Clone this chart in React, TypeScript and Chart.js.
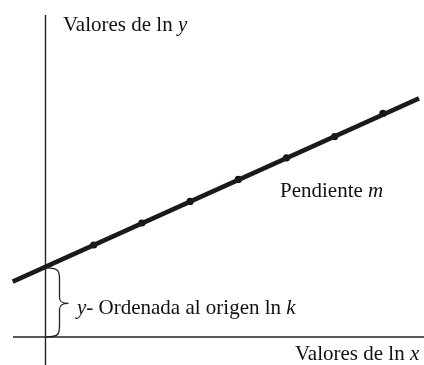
import React, { useEffect, useRef } from "react";
import { Chart, registerables } from "chart.js";

Chart.register(...registerables);

// ln x values of the measured points
const lnX = [1, 2, 3, 4, 5, 6, 7];
// ln y values of the measured points
const lnY = [4.6, 5.7, 6.78, 7.88, 8.96, 10.02, 11.18];
// fitted straight line (ends)
const fitX = [-0.68, 7.75];
const fitY = [2.77, 11.93];
// axis ranges
const xRange = [-0.944, 7.853];
const yRange = [-1.4, 16.85];

const yLabel = [["Valores de ", false], ["ln ", false], ["y", true]];
const xLabel = [["Valores de ", false], ["ln ", false], ["x", true]];
const slopeLabel = [["Pendiente ", false], ["m", true]];
const interceptLabel = [["y", true], ["- Ordenada al origen ", false], ["ln ", false], ["k", true]];

const FONT = '"Liberation Serif", "DejaVu Serif", serif';
const SIZE = 21;

function drawRich(ctx: CanvasRenderingContext2D, x: number, y: number, segs: any[]) {
  let cx = x;
  for (const [t, it] of segs) {
    ctx.font = `${it ? "italic " : ""}${SIZE}px ${FONT}`;
    ctx.fillText(t, cx, y);
    cx += ctx.measureText(t).width;
  }
}

const overlay = {
  id: "overlay",
  beforeDatasetsDraw(chart: any) {
    const ctx = chart.ctx as CanvasRenderingContext2D;
    const xs = chart.scales.x;
    const ys = chart.scales.y;
    const x0 = xs.getPixelForValue(0);
    const y0 = ys.getPixelForValue(0);
    ctx.save();
    ctx.strokeStyle = "#222";
    ctx.lineWidth = 1.4;
    ctx.beginPath();
    ctx.moveTo(x0, 15);
    ctx.lineTo(x0, chart.height);
    ctx.moveTo(13, y0);
    ctx.lineTo(chart.width, y0);
    ctx.stroke();
    ctx.restore();
  },
  afterDraw(chart: any) {
    const ctx = chart.ctx as CanvasRenderingContext2D;
    const xs = chart.scales.x;
    const ys = chart.scales.y;
    const x0 = xs.getPixelForValue(0);
    const y0 = ys.getPixelForValue(0);
    const yi = ys.getPixelForValue(fitY[0] + (fitY[1] - fitY[0]) * (0 - fitX[0]) / (fitX[1] - fitX[0]));
    ctx.save();
    // brace
    ctx.strokeStyle = "#222";
    ctx.lineWidth = 1.3;
    const top = yi + 1;
    const bot = y0;
    const mid = (top + bot) / 2 + 1;
    const bx = x0 + 14;
    const tip = x0 + 23;
    ctx.beginPath();
    ctx.moveTo(x0 + 1, top);
    ctx.bezierCurveTo(bx, top, bx, top + 4, bx, top + 12);
    ctx.lineTo(bx, mid - 6);
    ctx.bezierCurveTo(bx, mid - 2, bx + 2, mid, tip, mid);
    ctx.bezierCurveTo(bx + 2, mid, bx, mid + 2, bx, mid + 6);
    ctx.lineTo(bx, bot - 12);
    ctx.bezierCurveTo(bx, bot - 4, bx, bot, x0 + 1, bot);
    ctx.stroke();
    // labels
    ctx.fillStyle = "#111";
    ctx.textBaseline = "alphabetic";
    ctx.textAlign = "left";
    drawRich(ctx, 63, 31, yLabel);
    drawRich(ctx, 280, 197, slopeLabel);
    drawRich(ctx, 77, 314, interceptLabel);
    drawRich(ctx, 295, 360, xLabel);
    ctx.restore();
  },
};

export default function App() {
  const ref = useRef<HTMLCanvasElement>(null);
  useEffect(() => {
    if (!ref.current) return;
    const chart = new Chart(ref.current, {
      type: "scatter",
      data: {
        datasets: [
          {
            data: fitX.map((x, i) => ({ x, y: fitY[i] })),
            showLine: true,
            borderColor: "#1a1a1a",
            borderWidth: 4.5,
            pointRadius: 0,
            borderCapStyle: "butt",
          },
          {
            data: lnX.map((x, i) => ({ x, y: lnY[i] })),
            showLine: false,
            pointRadius: 3.6,
            backgroundColor: "#111",
            borderWidth: 0,
          },
        ],
      },
      options: {
        animation: false,
        responsive: false,
        devicePixelRatio: 1,
        layout: { padding: 0, autoPadding: false },
        plugins: { legend: { display: false }, tooltip: { enabled: false } },
        scales: {
          x: { type: "linear", display: false, min: xRange[0], max: xRange[1] },
          y: { type: "linear", display: false, min: yRange[0], max: yRange[1] },
        },
      },
      plugins: [overlay],
    } as any);
    return () => chart.destroy();
  }, []);
  return (
    <div style={{ position: "fixed", left: 0, top: 0, width: 424, height: 365, background: "#fff" }}>
      <canvas ref={ref} width={424} height={365} />
    </div>
  );
}
